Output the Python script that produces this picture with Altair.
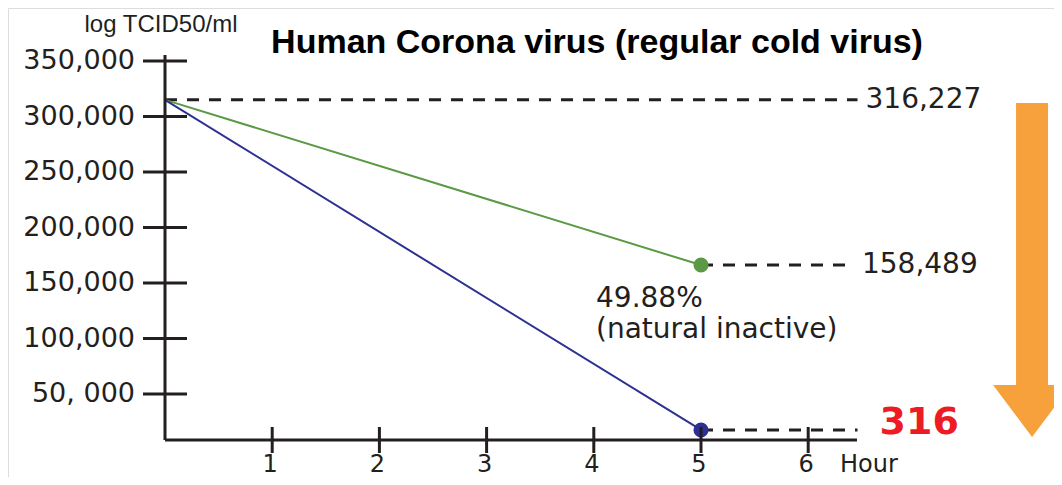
import altair as alt
import pandas as pd

# ---------------- data ----------------
hours = [0, 5]
natural_values = [315000, 166200]     # green series (plotted position)
treated_values = [315000, 17600]      # blue series (plotted position)
series_names = ["natural", "treated"]

y_tick_values = [50000, 100000, 150000, 200000, 250000, 300000, 350000]
y_tick_labels = ["50, 000", "100,000", "150,000", "200,000", "250,000", "300,000", "350,000"]
x_tick_values = [1, 2, 3, 4, 5, 6]
x_tick_labels = ["1", "2", "3", "4", "5", "6"]

guide_levels = [315000, 166200, 17600]
guide_starts = [0, 5, 5]
guide_labels = ["316,227", "158,489", "316"]

annotation_text = "49.88%\n(natural inactive)"
title_text = "Human Corona virus (regular cold virus)"
y_title = "log TCID50/ml"
x_title = "Hour"

# ---------------- layout / style ----------------
INK = "#231f20"
GREEN = "#5b9945"
BLUE = "#2e3192"
ORANGE = "#f7a13c"
RED = "#ed1c24"
FONT = "DejaVu Sans"

AXIS_BASE = 8560       # y value where the x axis sits
AXIS_TOP = 355400      # top of the y axis
AXIS_RIGHT = 6.455     # right end of the x axis
guide_end = [6.46, 6.38, 6.46]
label_dx = [8, 13, 22]
ARROW_X = 8.088
ARROW_TOP = 312200
ARROW_HEAD = 58100

xs = alt.Scale(domain=[0, 8], range=[157, 157 + 8 * 107.2], nice=False, zero=False)
ys = alt.Scale(domain=[0, 350000], range=[441.5, 53], nice=False, zero=False)


def X(field="x"):
    return alt.X(f"{field}:Q", scale=xs, axis=None)


def Y(field="y"):
    return alt.Y(f"{field}:Q", scale=ys, axis=None)


# series
rows = []
for name, vals in zip(series_names, [natural_values, treated_values]):
    for h, v in zip(hours, vals):
        rows.append({"series": name, "x": h, "y": v})
series_df = pd.DataFrame(rows)
color = alt.Color("series:N", scale=alt.Scale(domain=series_names, range=[GREEN, BLUE]), legend=None)

lines = alt.Chart(series_df).mark_line(strokeWidth=2).encode(x=X(), y=Y(), color=color, detail="series:N")
points = alt.Chart(series_df[series_df["x"] == hours[-1]]).mark_circle(size=227, opacity=1).encode(
    x=X(), y=Y(), color=color
)

# axes
yaxis_df = pd.DataFrame({"x": [0], "y": [AXIS_BASE], "y2": [AXIS_TOP]})
yaxis = alt.Chart(yaxis_df).mark_rule(color=INK, strokeWidth=3).encode(x=X(), y=Y(), y2="y2:Q")
xaxis_df = pd.DataFrame({"x": [0], "x2": [AXIS_RIGHT], "y": [AXIS_BASE]})
xaxis = alt.Chart(xaxis_df).mark_rule(color=INK, strokeWidth=3).encode(x=X(), x2="x2:Q", y=Y())

yt_df = pd.DataFrame({"x": [0] * len(y_tick_values), "y": y_tick_values, "label": y_tick_labels})
yticks = alt.Chart(yt_df).mark_rule(color=INK, strokeWidth=3, xOffset=-22, x2Offset=22).encode(
    x=X(), x2="x:Q", y=Y()
)
ylabels = alt.Chart(yt_df).mark_text(
    align="right", baseline="middle", dx=-30, font=FONT, fontSize=27, color=INK
).encode(x=X(), y=Y(), text="label:N")

xt_df = pd.DataFrame({"x": x_tick_values, "y": [AXIS_BASE] * len(x_tick_values), "label": x_tick_labels})
xticks = alt.Chart(xt_df).mark_rule(color=INK, strokeWidth=3, yOffset=-13, y2Offset=13).encode(
    x=X(), y=Y(), y2="y:Q"
)
xlabels = alt.Chart(xt_df).mark_text(
    align="center", baseline="middle", dy=25, dx=-2, font=FONT, fontSize=24, color=INK
).encode(x=X(), y=Y(), text="label:N")

hour_df = pd.DataFrame({"x": [AXIS_RIGHT], "y": [AXIS_BASE], "label": [x_title]})
hour = alt.Chart(hour_df).mark_text(
    align="left", baseline="middle", dx=-17, dy=25, font=FONT, fontSize=24, color=INK
).encode(x=X(), y=Y(), text="label:N")

ytitle_df = pd.DataFrame({"x": [0], "y": [AXIS_TOP], "label": [y_title]})
ytitle = alt.Chart(ytitle_df).mark_text(
    align="center", baseline="middle", dx=-4, dy=-30, font="Liberation Sans", fontSize=24, color=INK
).encode(x=X(), y=Y(), text="label:N")

# dashed guides and their labels
guide_df = pd.DataFrame({"x": guide_starts, "x2": guide_end, "y": guide_levels, "label": guide_labels})
guides = alt.Chart(guide_df).mark_rule(color=INK, strokeWidth=3, strokeDash=[12, 10]).encode(
    x=X(), x2="x2:Q", y=Y()
)
glab_a = alt.Chart(guide_df.iloc[[0]]).mark_text(
    align="left", baseline="middle", dx=label_dx[0], font=FONT, fontSize=28, color=INK
).encode(x=X("x2"), y=Y(), text="label:N")
glab_b = alt.Chart(guide_df.iloc[[1]]).mark_text(
    align="left", baseline="middle", dx=label_dx[1], font=FONT, fontSize=28, color=INK
).encode(x=X("x2"), y=Y(), text="label:N")
glab_c = alt.Chart(guide_df.iloc[[2]]).mark_text(
    align="left", baseline="middle", dx=label_dx[2], dy=-7, font=FONT, fontSize=38,
    fontWeight="bold", color=RED
).encode(x=X("x2"), y=Y(), text="label:N")

# annotation under the green point
ann_df = pd.DataFrame({"x": [hours[-1]], "y": [natural_values[-1]], "label": [annotation_text]})
ann = alt.Chart(ann_df).mark_text(
    align="left", baseline="alphabetic", dx=-105, dy=42, lineBreak="\n", lineHeight=31,
    font=FONT, fontSize=28, color=INK
).encode(x=X(), y=Y(), text="label:N")

# orange arrow
shaft_df = pd.DataFrame({"x": [ARROW_X], "y": [ARROW_TOP], "y2": [ARROW_HEAD - 1500]})
shaft = alt.Chart(shaft_df).mark_rule(color=ORANGE, strokeWidth=32, strokeCap="butt").encode(
    x=X(), y=Y(), y2="y2:Q"
)
head_df = pd.DataFrame({"x": [ARROW_X], "y": [ARROW_HEAD]})
head = alt.Chart(head_df).mark_point(
    shape="M -1 0 L 1 0 L 0 1.333 Z", size=6084, filled=True, fill=ORANGE, opacity=1, strokeWidth=0
).encode(x=X(), y=Y())

# title
title = alt.Chart(pd.DataFrame({"label": [title_text]})).mark_text(
    align="center", baseline="alphabetic", font="Liberation Sans", fontWeight="bold", fontSize=34, color="#000000"
).encode(x=alt.value(589), y=alt.value(45), text="label:N")

chart = alt.layer(
    shaft, head, guides, lines, points, yaxis, xaxis, yticks, xticks, ylabels, xlabels, hour, ytitle,
    glab_a, glab_b, glab_c, ann, title
).properties(
    width=1046, height=469, autosize=alt.AutoSizeParams(type="none"), padding=0
).configure_view(stroke=None).configure(background="white")

chart.save("out.html", embed_options={"renderer": "svg", "actions": False})
